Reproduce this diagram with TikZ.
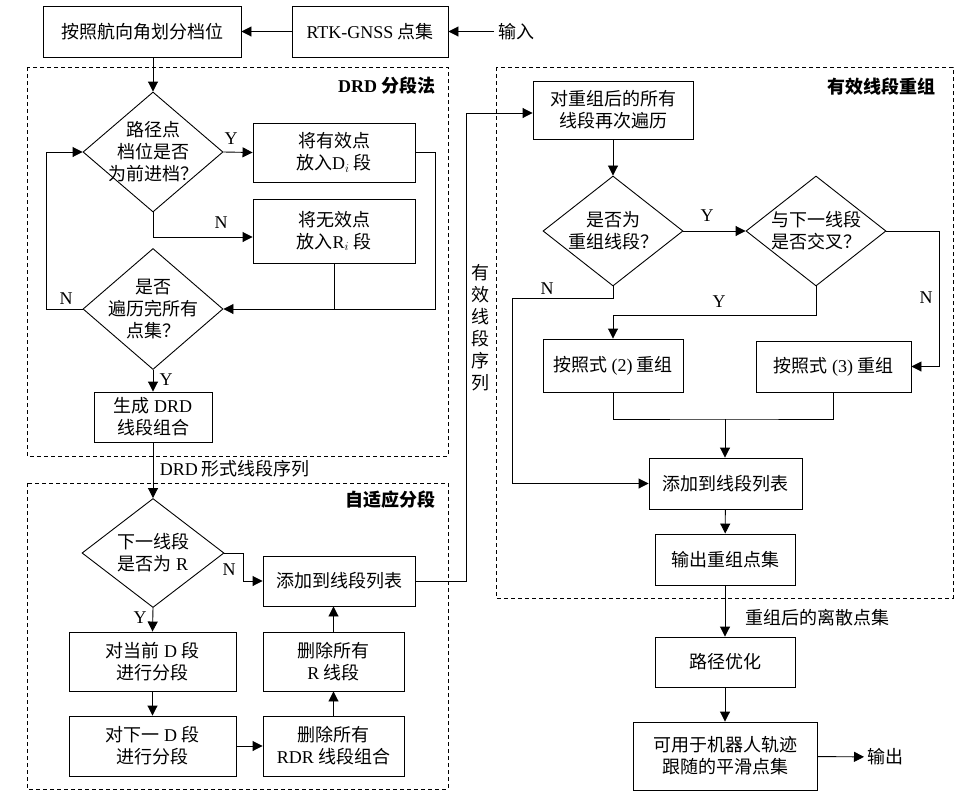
\documentclass[tikz,border=0pt]{standalone}
\usepackage{fontspec}
\setmainfont{Noto Sans CJK SC}
\newfontfamily\lat{Liberation Serif}
\usetikzlibrary{shapes.geometric,arrows.meta}

\begin{document}
\begin{tikzpicture}[x=1pt, y=-1pt, line width=0.9pt,
		font=\fontsize{18}{22}\selectfont,
		box/.style={draw, align=center, inner sep=0pt},
		dia/.style={draw, diamond, inner sep=0pt, minimum width=140pt},
		grp/.style={draw, dash pattern=on 4pt off 3pt, line width=0.8pt},
		yn/.style={font=\fontsize{18}{22}\selectfont\lat},
		ttl/.style={anchor=east, font=\fontsize{18}{22}\selectfont\bfseries},
		arr/.style={-{Triangle[length=10pt, width=10pt]}}]
		\useasboundingbox (0,0) rectangle (975,798);

		\node[box, minimum width=198pt, minimum height=51pt] (dang) at (142,31.5) {按照航向角划分档位};
		\node[box, minimum width=156pt, minimum height=51pt] (rtk) at (370,31.5) {{\lat RTK-GNSS} 点集};
		\node (inp) at (516,31.5) {输入};

		\draw[grp] (27,67) rectangle (448,456);
		\node[ttl] (tdrd) at (439,86) {{\lat DRD} 分段法};
		\node[dia, minimum height=120pt, label={[align=center]center:路径点\\档位是否\\为前进档？}] (d1) at (153,152) {};
		\node[box, minimum width=162pt, minimum height=59pt] (bdi) at (334,152.5) {将有效点\\放入{\lat D}$_i$ 段};
		\node[box, minimum width=162pt, minimum height=64pt] (bri) at (334,231) {将无效点\\放入{\lat R}$_i$ 段};
		\node[dia, minimum height=121pt, label={[align=center]center:是否\\遍历完所有\\点集？}] (d2) at (153,309) {};
		\node[box, minimum width=118pt, minimum height=50pt] (gen) at (153,417) {生成 {\lat DRD}\\线段组合};
		\node[anchor=west] (seq) at (156,469) {{\lat DRD} 形式线段序列};

		\draw[grp] (27,483) rectangle (448,789);
		\node[ttl] (tada) at (439,500) {自适应分段};
		\node[dia, minimum width=142pt, minimum height=109pt, label={[align=center]center:下一线段\\是否为 {\lat R}}] (d3) at (153,553) {};
		\node[box, minimum width=152pt, minimum height=50pt] (addl) at (339,581) {添加到线段列表};
		\node[box, minimum width=167pt, minimum height=59pt] (cur) at (152.5,661.5) {对当前 {\lat D} 段\\进行分段};
		\node[box, minimum width=167pt, minimum height=60pt] (nxt) at (152.5,746) {对下一 {\lat D} 段\\进行分段};
		\node[box, minimum width=141pt, minimum height=59pt] (delr) at (333.5,661.5) {删除所有\\{\lat R} 线段};
		\node[box, minimum width=141pt, minimum height=60pt] (delrdr) at (333.5,746) {删除所有\\{\lat RDR} 线段组合};
		\node[align=center] (vseq) at (480,328) {有\\效\\线\\段\\序\\列};

		\draw[grp] (496,67) rectangle (953,598);
		\node[ttl] (treg) at (939,87) {有效线段重组};
		\node[box, minimum width=160pt, minimum height=58pt] (trav) at (613,110) {对重组后的所有\\线段再次遍历};
		\node[dia, minimum height=110pt, label={[align=center]center:是否为\\重组线段？}] (d4) at (613,231) {};
		\node[dia, minimum height=110pt, label={[align=center]center:与下一线段\\是否交叉？}] (d5) at (816,231) {};
		\node[box, minimum width=140pt, minimum height=53pt] (f2) at (613,365.5) {按照式 {\lat (2)} 重组};
		\node[box, minimum width=155pt, minimum height=51pt] (f3) at (833.5,366.5) {按照式 {\lat (3)} 重组};
		\node[box, minimum width=153pt, minimum height=51pt] (addr) at (725.5,483.5) {添加到线段列表};
		\node[box, minimum width=140pt, minimum height=51pt] (outr) at (725,559.5) {输出重组点集};
		\node[anchor=west] (disc) at (742,618) {重组后的离散点集};
		\node[box, minimum width=140pt, minimum height=50pt] (opt) at (725,662) {路径优化};
		\node[box, minimum width=184pt, minimum height=68pt] (fin) at (725,756) {可用于机器人轨迹\\跟随的平滑点集};
		\node[anchor=west] (outp) at (864,757) {输出};
		\coordinate (jn) at (725,419);

		\draw[arr] (inp) -- (rtk);
		\draw[arr] (rtk) -- (dang);
		\draw[arr] (d1.north |- dang.south) -- (d1.north);
		\draw[arr] (d1.east) -- (bdi.west);
		\draw[arr] (d1.south) |- ([yshift=-6pt]bri.west);
		\draw[arr] (bdi.east) -- ++(20,0) |- (d2.east);
		\draw (bri.south) -- (bri.south |- d2.east);
		\draw[arr] (d2.west) -- ++(-36,0) |- (d1.west);
		\draw[arr] (d2.south) -- (gen.north);
		\draw[arr] (gen.south) -- (d3.north);
		\draw[arr] (d3.east) -- ++(19,0) |- (addl.west);
		\draw[arr] (d3.south) -- (cur.north);
		\draw[arr] (cur) -- (nxt);
		\draw[arr] (nxt) -- (delrdr);
		\draw[arr] (delrdr) -- (delr);
		\draw[arr] (delr.north) -- (delr.north |- addl.south);
		\draw[arr] (addl.east) -- ++(51,0) |- ([yshift=-3pt]trav.west);
		\draw[arr] (trav) -- (d4);
		\draw[arr] (d4.east) -- (d5.west);
		\draw[arr] (d5.east) -- ++(53,0) |- (f3.east);
		\draw[arr] (d5.south) -- ++(0,29) -| (f2.north);
		\draw (f2.south) |- (jn) -| (f3.south);
		\draw[arr] (jn) -- (jn |- addr.north);
		\draw[arr] (d4.south) -- ++(0,12) -- ++(-101,0) |- (addr.west);
		\draw[arr] (addr) -- (outr);
		\draw[arr] (outr) -- (opt);
		\draw[arr] (opt) -- (fin);
		\draw[arr] (fin) -- (outp);

		\node[yn] (y1) at (231,139) {Y};
		\node[yn] (n1) at (221,223) {N};
		\node[yn] (n2) at (66,299) {N};
		\node[yn] (y2) at (166,380) {Y};
		\node[yn] (n3) at (229,570) {N};
		\node[yn] (y3) at (140,618) {Y};
		\node[yn] (y4) at (707,216) {Y};
		\node[yn] (n4) at (926,298) {N};
		\node[yn] (y5) at (719,302) {Y};
		\node[yn] (n5) at (547,289) {N};
	\end{tikzpicture}
\end{document}
